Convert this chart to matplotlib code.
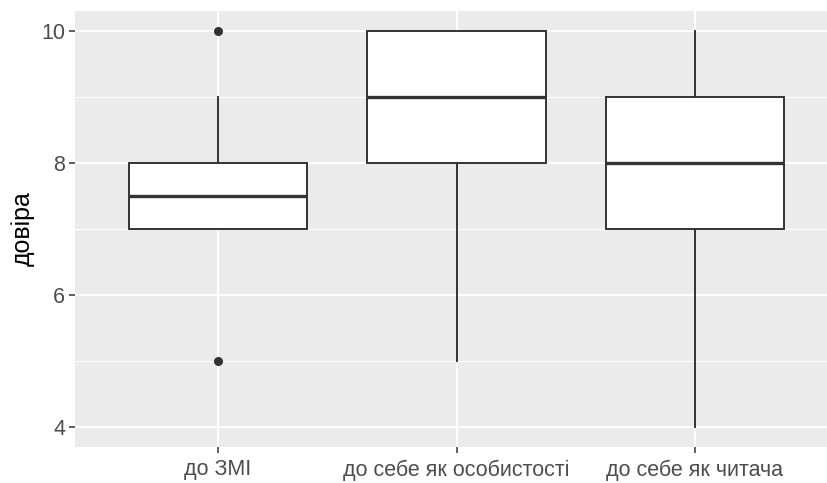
import matplotlib
matplotlib.use("Agg")
from matplotlib import pyplot as plt

# data
categories = ["до ЗМІ", "до себе як особистості", "до себе як читача"]
q1 = [7, 8, 7]
medians = [7.5, 9, 8]
q3 = [8, 10, 9]
whisker_low = [7, 5, 4]
whisker_high = [9, 10, 10]
outliers = [[10, 5], [], []]

plt.rcParams['font.family'] = ['Liberation Sans', 'DejaVu Sans']

stats = []
for i, name in enumerate(categories):
    stats.append({
        "label": name, "q1": q1[i], "med": medians[i], "q3": q3[i],
        "whislo": whisker_low[i], "whishi": whisker_high[i], "fliers": outliers[i],
    })

fig = plt.figure(figsize=(8.27, 4.83), dpi=100)
ax = fig.add_axes([75 / 827, 36 / 483, 763 / 827, 436 / 483])
ax.set_facecolor("#EBEBEB")

line = "#333333"
ax.bxp(stats, positions=[1, 2, 3], widths=0.75, patch_artist=True, showcaps=False,
       boxprops=dict(facecolor="white", edgecolor=line, linewidth=1.4),
       medianprops=dict(color=line, linewidth=2.4),
       whiskerprops=dict(color=line, linewidth=1.4),
       flierprops=dict(marker="o", markerfacecolor=line, markeredgecolor=line, markersize=5.5),
       zorder=3)

ax.set_xlim(0.4, 3.6)
ax.set_ylim(3.7, 10.3)
ax.set_yticks([4, 6, 8, 10])
ax.set_yticks([5, 7, 9], minor=True)
ax.set_xticks([1, 2, 3])
ax.set_xticklabels(categories)

ax.grid(True, which="major", color="white", linewidth=1.5, zorder=0)
ax.grid(True, which="minor", axis="y", color="white", linewidth=0.8, zorder=0)
ax.set_axisbelow(True)
for s in ax.spines.values():
    s.set_visible(False)

ax.tick_params(axis="both", which="major", colors="#333333", length=4, width=1.1,
               labelsize=15.5, labelcolor="#4D4D4D", pad=3)
ax.tick_params(axis="x", which="major", pad=5)
ax.tick_params(axis="y", which="minor", length=0)
ax.set_ylabel("довіра", fontsize=18, color="black", labelpad=5)

fig.savefig("out.png", dpi=100)
